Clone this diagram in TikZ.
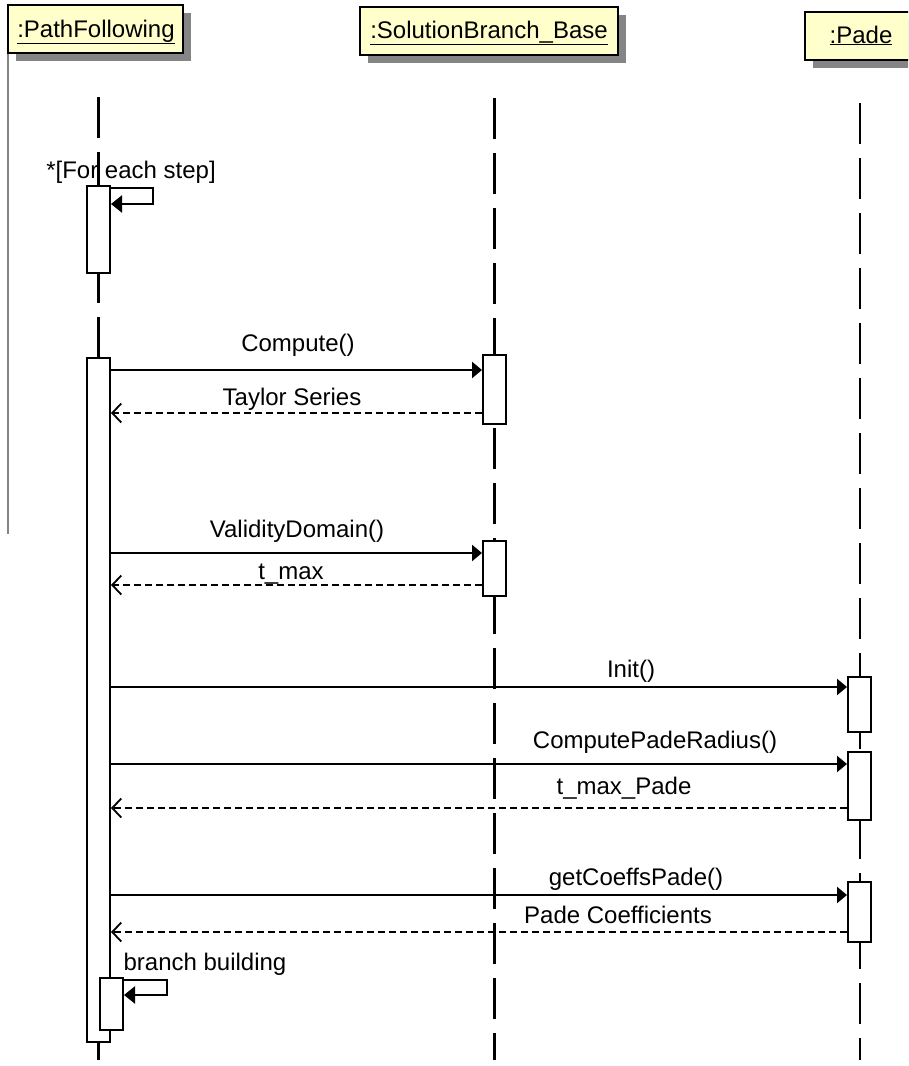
\documentclass[tikz,border=0pt]{standalone}
\usepackage{fontspec}
\setmainfont{Liberation Sans}
\usetikzlibrary{arrows.meta,shadows}
\definecolor{hdrfill}{HTML}{FFFFCC}
\definecolor{shadowgray}{HTML}{858585}
\begin{document}
\begin{tikzpicture}[x=1pt,y=-1pt,
  every node/.style={font=\fontsize{24}{28}\selectfont, inner sep=0pt},
  hdr/.style={draw=black, line width=2.4pt, fill=hdrfill, rectangle,
    general shadow={fill=shadowgray, shadow xshift=8pt, shadow yshift=-8pt}},
  lifeline/.style={line width=2.3pt, dash pattern=on 41pt off 14pt},
  act/.style={draw=black, line width=2pt, fill=white, rectangle, minimum width=23pt},
  call/.style={line width=2.3pt, -{Triangle[length=10pt,width=16pt]}},
  ret/.style={line width=2.2pt, dash pattern=on 7pt off 4pt, -{Straight Barb[length=9pt,width=19pt,line width=1.8pt]}},
  selfcall/.style={line width=2.3pt, -{Triangle[length=11pt,width=17pt]}},
  lbl/.style={anchor=base}
]
\useasboundingbox (0,0) rectangle (908,1066);
\clip (0,0) rectangle (908,1066);

% left border line
\draw[shadowgray, line width=1.2pt] (8,53) -- (8,534);

% headers
\node[hdr, minimum width=175pt, minimum height=48pt] (pf) at (95.5,29) {};
\node[lbl] (pft) at (96,37) {\underline{:PathFollowing}};
\node[hdr, minimum width=258pt, minimum height=48pt] (sb) at (489,31) {};
\node[lbl] (sbt) at (489,38) {\underline{:SolutionBranch\_Base}};
\node[hdr, minimum width=110pt, minimum height=48pt] (pd) at (860,36) {};
\node[lbl] (pdt) at (861,43) {\underline{:Pade}};

% lifelines
\coordinate (pfTop) at (98.5,97);
\coordinate (pfBot) at (98.5,1060);
\coordinate (sbTop) at (494.5,98);
\coordinate (sbBot) at (494.5,1060);
\coordinate (pdTop) at (860,103);
\coordinate (pdBot) at (860,1060);
\draw[lifeline] (pfTop) -- (pfBot);
\draw[lifeline] (sbTop) -- (sbBot);
\draw[lifeline] (pdTop) -- (pdBot);

% loop text
\node[lbl] (loopt) at (131,178) {*[For each step]};

% activation boxes
\node[act, minimum height=87pt] (a0) at (98.5,229.5) {};
\node[act, minimum height=684pt] (a1) at (98.5,700) {};
\node[act, minimum height=52pt] (a2) at (111.5,1004) {};
\node[act, minimum height=69pt] (s1) at (494.5,389.5) {};
\node[act, minimum height=55pt] (s2) at (494.5,568.5) {};
\node[act, minimum height=55pt] (p1) at (859.5,704.5) {};
\node[act, minimum height=68pt] (p2) at (859.5,786) {};
\node[act, minimum height=60pt] (p3) at (859.5,912) {};

% self calls
\coordinate (lc1) at (153,188);
\coordinate (lc2) at (153,204);
\draw[selfcall] (a0.east |- 0,188) -- (lc1) -- (lc2) -- (a0.east |- 0,204);
\coordinate (bc1) at (167,980);
\coordinate (bc2) at (167,995);
\draw[selfcall] (a2.east |- 0,980) -- (bc1) -- (bc2) -- (a2.east |- 0,995);
\node[lbl] (bbt) at (205,970) {branch building};

% messages
\draw[call] (a1.east |- 0,370) -- (s1.west |- 0,370);
\node[lbl] (m1) at (298,351) {Compute()};
\draw[ret] (s1.west |- 0,413) -- (a1.east |- 0,413);
\node[lbl] (r1) at (292,405) {Taylor Series};

\draw[call] (a1.east |- 0,553) -- (s2.west |- 0,553);
\node[lbl] (m2) at (297,537) {ValidityDomain()};
\draw[ret] (s2.west |- 0,585) -- (a1.east |- 0,585);
\node[lbl] (r2) at (291,579) {t\_max};

\draw[call] (a1.east |- 0,687) -- (p1.west |- 0,687);
\node[lbl] (m3) at (631,677) {Init()};

\draw[call] (a1.east |- 0,764) -- (p2.west |- 0,764);
\node[lbl] (m4) at (655,748) {ComputePadeRadius()};
\draw[ret] (p2.west |- 0,808) -- (a1.east |- 0,808);
\node[lbl] (r4) at (624,794) {t\_max\_Pade};

\draw[call] (a1.east |- 0,895) -- (p3.west |- 0,895);
\node[lbl] (m5) at (636,885) {getCoeffsPade()};
\draw[ret] (p3.west |- 0,932) -- (a1.east |- 0,932);
\node[lbl] (r5) at (618,923) {Pade Coefficients};
\end{tikzpicture}
\end{document}
